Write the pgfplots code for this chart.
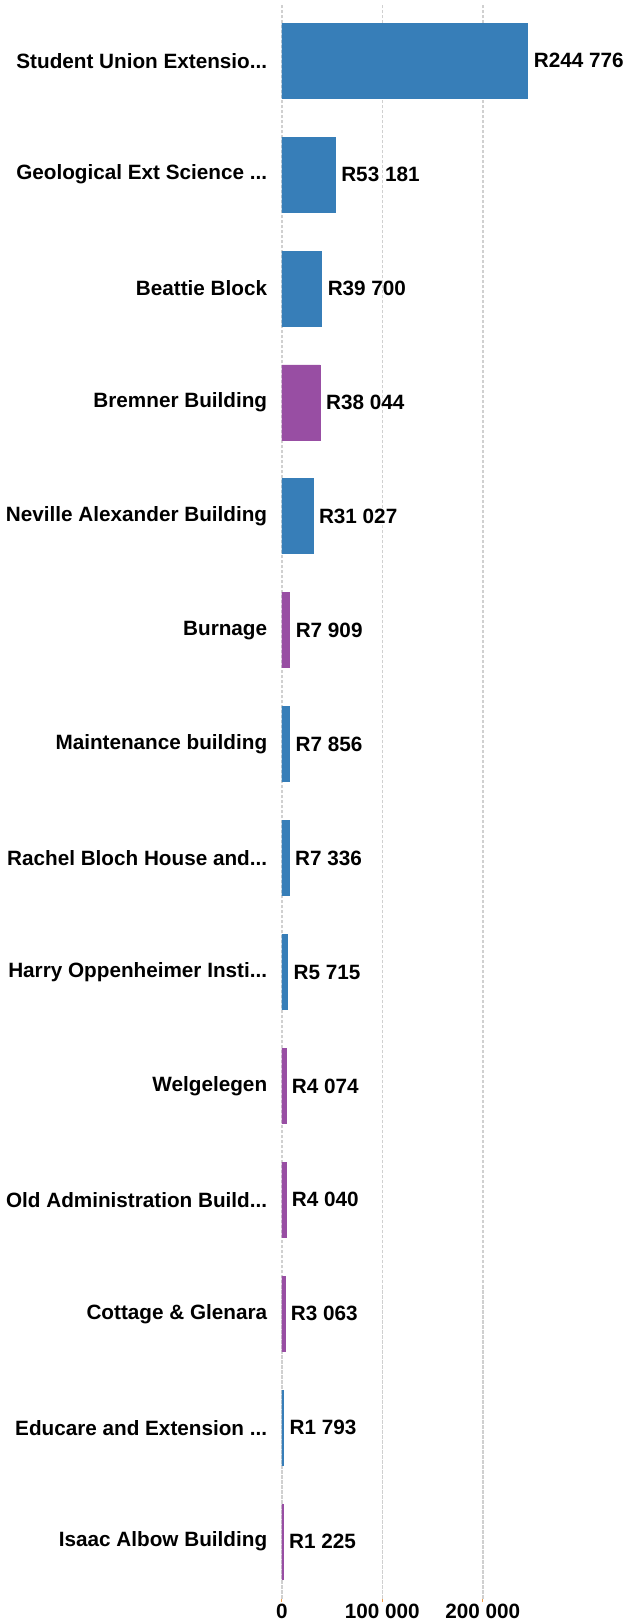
\documentclass[border=0pt]{standalone}
\usepackage{fontspec}
\setmainfont{Liberation Sans}
\usepackage{pgfplots}
\usepackage{pgfplotstable}
\pgfplotsset{compat=1.18}

\definecolor{barblue}{HTML}{377EB8}
\definecolor{barpurple}{HTML}{984EA3}
\definecolor{gridgray}{HTML}{D0D0D0}
\definecolor{tickorange}{HTML}{F5A04A}

% three periods, hidden from \foreach
\newcommand{\trunc}{...}

% y: 0 = bottom row (Isaac Albow), 13 = top row (Student Union)
\pgfplotstableread[col sep=comma]{
y,x,label
13,244776,R244 776
12,53181,R53 181
11,39700,R39 700
9,31027,R31 027
7,7856,R7 856
6,7336,R7 336
5,5715,R5 715
1,1793,R1 793
}\bluedata

\pgfplotstableread[col sep=comma]{
y,x,label
10,38044,R38 044
8,7909,R7 909
4,4074,R4 074
3,4040,R4 040
2,3063,R3 063
0,1225,R1 225
}\purpledata

\begin{document}
\begin{tikzpicture}
\begin{axis}[
    xbar,
    scale only axis,
    width=130.65pt,
    height=797.3pt,
    xmin=0, xmax=260000,
    ymin=-0.5, ymax=13.5,
    bar width=37.5pt,
    bar shift=0pt,
    font=\fontsize{10.35}{12}\selectfont\bfseries,
    axis line style={draw=none},
    xtick={0,100000,200000},
    xticklabels={0,100 000,200 000},
    scaled x ticks=false,
    xtick pos=bottom,
    ytick={0,1,2,3,4,5,6,7,8,9,10,11,12,13},
    yticklabels={Isaac Albow Building,Educare and Extension \trunc,Cottage \& Glenara,Old Administration Build\trunc,Welgelegen,Harry Oppenheimer Insti\trunc,Rachel Bloch House and\trunc,Maintenance building,Burnage,Neville Alexander Building,Bremner Building,Beattie Block,Geological Ext Science \trunc,Student Union Extensio\trunc},
    tick align=outside,
    major tick length=1.5pt,
    ytick style={draw=none},
    xtick style={draw=tickorange, line width=0.6pt},
    yticklabel style={anchor=east, inner sep=0pt, xshift=-5.65pt},
    xticklabel style={anchor=north, inner sep=0pt, yshift=-1.2pt},
    xmajorgrids,
    major grid style={draw=gridgray, line width=0.75pt, dash pattern=on 1.75pt off 0.75pt},
    point meta=explicit symbolic,
    nodes near coords,
    nodes near coords style={anchor=west, inner sep=0pt, xshift=2.8pt, font=\fontsize{10.35}{12}\selectfont\bfseries},
]
\addplot[fill=barblue, draw=barblue, line width=0.4pt]
    table[x=x, y=y, meta=label] {\bluedata};
\addplot[fill=barpurple, draw=barpurple, line width=0.4pt]
    table[x=x, y=y, meta=label] {\purpledata};
\end{axis}
\path (current bounding box.south west) ++(-3pt,-2pt);
\path (current bounding box.north east) ++(1pt,1.5pt);
\end{tikzpicture}
\end{document}
